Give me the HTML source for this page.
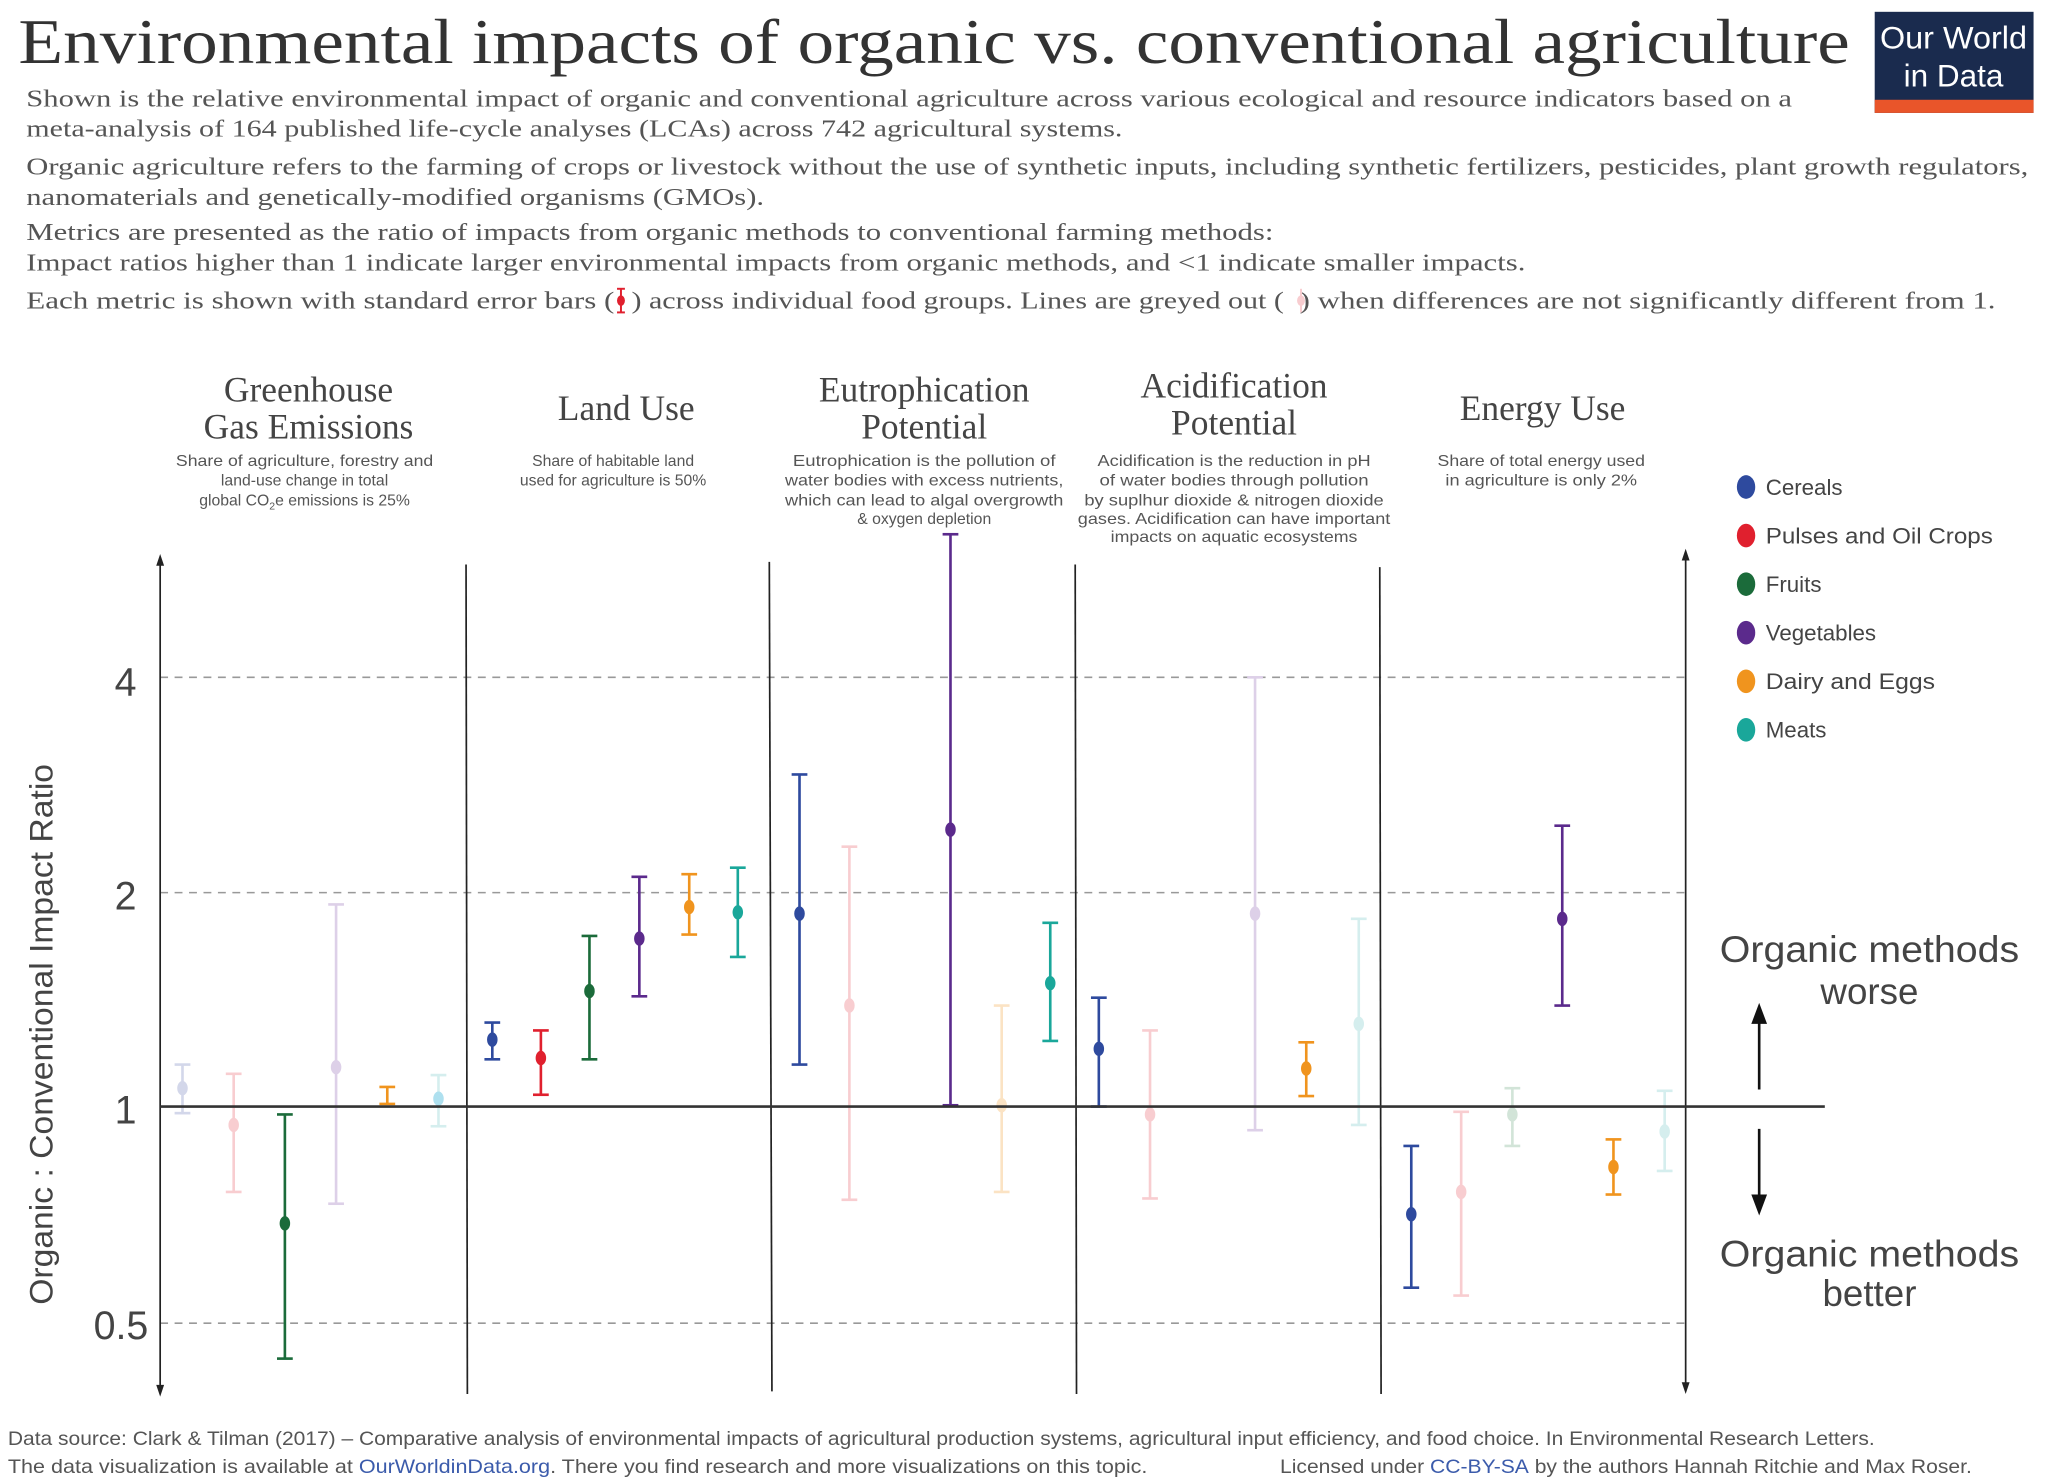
<!DOCTYPE html>
<html><head><meta charset="utf-8"><style>
html,body{margin:0;padding:0;background:#fff;}
svg{display:block;}
.serif{font-family:"Liberation Serif",serif;}
.sans{font-family:"Liberation Sans",sans-serif;}
</style></head><body>
<svg id="s" width="2048" height="1482" viewBox="0 0 1560 1129" preserveAspectRatio="none" xmlns="http://www.w3.org/2000/svg">
<rect width="1560" height="1129" fill="#fff"/>
<text class="serif" x="14" y="48" font-size="48" fill="#333" textLength="1395" lengthAdjust="spacingAndGlyphs">Environmental impacts of organic vs. conventional agriculture</text>
<rect x="1428" y="9" width="121" height="77" fill="#1a2b4e"/>
<rect x="1428" y="76" width="121" height="10" fill="#e9552a"/>
<text class="sans" x="1488" y="37" font-size="24" fill="#fff" text-anchor="middle" textLength="112" lengthAdjust="spacingAndGlyphs">Our World</text>
<text class="sans" x="1488" y="66" font-size="24" fill="#fff" text-anchor="middle">in Data</text>
<g class="serif" font-size="18.5" fill="#555">
<text x="20" y="81" textLength="1345" lengthAdjust="spacingAndGlyphs">Shown is the relative environmental impact of organic and conventional agriculture across various ecological and resource indicators based on a</text>
<text x="20" y="104" textLength="835" lengthAdjust="spacingAndGlyphs">meta-analysis of 164 published life-cycle analyses (LCAs) across 742 agricultural systems.</text>
<text x="20" y="133" textLength="1525" lengthAdjust="spacingAndGlyphs">Organic agriculture refers to the farming of crops or livestock without the use of synthetic inputs, including synthetic fertilizers, pesticides, plant growth regulators,</text>
<text x="20" y="156" textLength="562" lengthAdjust="spacingAndGlyphs">nanomaterials and genetically-modified organisms (GMOs).</text>
<text x="20" y="183" textLength="950" lengthAdjust="spacingAndGlyphs">Metrics are presented as the ratio of impacts from organic methods to conventional farming methods:</text>
<text x="20" y="206" textLength="1142" lengthAdjust="spacingAndGlyphs">Impact ratios higher than 1 indicate larger environmental impacts from organic methods, and &lt;1 indicate smaller impacts.</text>
<text x="20" y="235" textLength="448" lengthAdjust="spacingAndGlyphs">Each metric is shown with standard error bars (</text>
<text x="481" y="235" textLength="497" lengthAdjust="spacingAndGlyphs">) across individual food groups. Lines are greyed out (</text>
<text x="990" y="235" textLength="530" lengthAdjust="spacingAndGlyphs">) when differences are not significantly different from 1.</text>
</g>
<g stroke="#e0202e" stroke-width="1.5"><line x1="473" y1="220" x2="473" y2="238"/><line x1="470" y1="220" x2="476" y2="220"/><line x1="470" y1="238" x2="476" y2="238"/></g><ellipse cx="473" cy="229" rx="3" ry="4" fill="#e0202e"/>
<g stroke="#f8cdd0" stroke-width="1.5"><line x1="991" y1="220" x2="991" y2="238"/></g><ellipse cx="991" cy="229" rx="3" ry="4" fill="#f8cdd0"/>

<g class="serif" font-size="27" fill="#444" text-anchor="middle">
<text x="235" y="306">Greenhouse</text><text x="235" y="334">Gas Emissions</text>
<text x="477" y="320">Land Use</text>
<text x="704" y="306">Eutrophication</text><text x="704" y="334">Potential</text>
<text x="940" y="303">Acidification</text><text x="940" y="331">Potential</text>
<text x="1175" y="320">Energy Use</text>
</g>
<g class="sans" font-size="12" fill="#555" text-anchor="middle">
<text x="232" y="355" textLength="196" lengthAdjust="spacingAndGlyphs">Share of agriculture, forestry and</text>
<text x="232" y="370">land-use change in total</text>
<text x="232" y="385">global CO<tspan font-size="8" dy="3">2</tspan><tspan dy="-3">e emissions is 25%</tspan></text>
<text x="467" y="355">Share of habitable land</text>
<text x="467" y="370">used for agriculture is 50%</text>
<text x="704" y="355" textLength="200" lengthAdjust="spacingAndGlyphs">Eutrophication is the pollution of</text>
<text x="704" y="370" textLength="212" lengthAdjust="spacingAndGlyphs">water bodies with excess nutrients,</text>
<text x="704" y="385" textLength="212" lengthAdjust="spacingAndGlyphs">which can lead to algal overgrowth</text>
<text x="704" y="399">&amp; oxygen depletion</text>
<text x="940" y="355" textLength="208" lengthAdjust="spacingAndGlyphs">Acidification is the reduction in pH</text>
<text x="940" y="370" textLength="205" lengthAdjust="spacingAndGlyphs">of water bodies through pollution</text>
<text x="940" y="385" textLength="228" lengthAdjust="spacingAndGlyphs">by suplhur dioxide &amp; nitrogen dioxide</text>
<text x="940" y="399" textLength="238" lengthAdjust="spacingAndGlyphs">gases. Acidification can have important</text>
<text x="940" y="413" textLength="188" lengthAdjust="spacingAndGlyphs">impacts on aquatic ecosystems</text>
<text x="1174" y="355" textLength="158" lengthAdjust="spacingAndGlyphs">Share of total energy used</text>
<text x="1174" y="370" textLength="146" lengthAdjust="spacingAndGlyphs">in agriculture is only 2%</text>
</g>
<g class="sans" font-size="17" fill="#444">
<ellipse cx="1330" cy="371" rx="7" ry="9" fill="#2e4a9e"/><text x="1345" y="377">Cereals</text>
<ellipse cx="1330" cy="408" rx="7" ry="9" fill="#e0202e"/><text x="1345" y="414" textLength="173" lengthAdjust="spacingAndGlyphs">Pulses and Oil Crops</text>
<ellipse cx="1330" cy="445" rx="7" ry="9" fill="#1b6b3a"/><text x="1345" y="451">Fruits</text>
<ellipse cx="1330" cy="482" rx="7" ry="9" fill="#5b2a8c"/><text x="1345" y="488">Vegetables</text>
<ellipse cx="1330" cy="519" rx="7" ry="9" fill="#f0941e"/><text x="1345" y="525" textLength="129" lengthAdjust="spacingAndGlyphs">Dairy and Eggs</text>
<ellipse cx="1330" cy="556" rx="7" ry="9" fill="#1aa79a"/><text x="1345" y="562">Meats</text>
</g>
<g stroke="#999" stroke-width="1.2" stroke-dasharray="6,5">
<line x1="122" y1="516" x2="1284" y2="516"/><line x1="122" y1="680" x2="1284" y2="680"/><line x1="122" y1="1008" x2="1284" y2="1008"/>
</g>
<g stroke="#222" stroke-width="1.3">
<line x1="122" y1="428" x2="122" y2="1060"/><line x1="1284" y1="424" x2="1284" y2="1058"/>
<line x1="355" y1="430" x2="356" y2="1062"/><line x1="586" y1="428" x2="588" y2="1060"/><line x1="819" y1="430" x2="820" y2="1062"/><line x1="1051" y1="432" x2="1052" y2="1062"/>
</g>
<path d="M122,422 l-3,9 h6z M122,1064 l-3,-9 h6z M1284,418 l-3,9 h6z M1284,1062 l-3,-9 h6z" fill="#222"/>
<g class="sans" font-size="30" fill="#444" text-anchor="end">
<text x="104" y="530">4</text><text x="104" y="693">2</text><text x="104" y="856">1</text><text x="113" y="1020">0.5</text>
</g>
<text class="sans" font-size="25" fill="#444" text-anchor="middle" transform="translate(40,788) rotate(-90)" textLength="412" lengthAdjust="spacingAndGlyphs">Organic : Conventional Impact Ratio</text>
<g id="bars"></g>
<line x1="122" y1="843" x2="1390" y2="843" stroke="#333" stroke-width="2"/>
<g class="sans" font-size="28" fill="#444" text-anchor="middle">
<text x="1424" y="733" textLength="228" lengthAdjust="spacingAndGlyphs">Organic methods</text><text x="1424" y="765">worse</text>
<text x="1424" y="965" textLength="228" lengthAdjust="spacingAndGlyphs">Organic methods</text><text x="1424" y="995">better</text>
</g>
<line x1="1340" y1="830" x2="1340" y2="775" stroke="#111" stroke-width="2"/><path d="M1340,764 l-6,16 h12z" fill="#111"/>
<line x1="1340" y1="860" x2="1340" y2="915" stroke="#111" stroke-width="2"/><path d="M1340,926 l-6,-16 h12z" fill="#111"/>
<g class="sans" font-size="14.5" fill="#555">
<text x="6" y="1101" textLength="1422" lengthAdjust="spacingAndGlyphs">Data source: Clark &amp; Tilman (2017) – Comparative analysis of environmental impacts of agricultural production systems, agricultural input efficiency, and food choice. In Environmental Research Letters.</text>
<text x="6" y="1122" textLength="868" lengthAdjust="spacingAndGlyphs">The data visualization is available at <tspan fill="#3b5bab">OurWorldinData.org</tspan>. There you find research and more visualizations on this topic.</text>
<text x="975" y="1122" textLength="527" lengthAdjust="spacingAndGlyphs">Licensed under <tspan fill="#3b5bab">CC-BY-SA</tspan> by the authors Hannah Ritchie and Max Roser.</text>
</g>
</svg>
<script>
var C={b:"#2e4a9e",r:"#e0202e",g:"#1b6b3a",v:"#5b2a8c",o:"#f0941e",t:"#1aa79a",fb:"#d3d7ea",fr:"#f8cdd0",fg:"#d2e4d8",fv:"#ddd0e8",fo:"#fbe3c4",ft:"#d5eeee"};
var D=[
[139,829,811,848,"fb"],[178,857,818,908,"fr"],[217,932,849,1035,"g"],[256,813,689,917,"fv"],[295,null,828,841,"o"],[334,837,819,858,"ft","#aee0ef"],
[375,792,779,807,"b"],[412,806,785,834,"r"],[449,755,713,807,"g"],[487,715,668,759,"v"],[525,691,666,712,"o"],[562,695,661,729,"t"],
[609,696,590,811,"b"],[647,766,645,914,"fr"],[724,632,407,842,"v"],[763,842,766,908,"fo"],[800,749,703,793,"t"],
[837,799,760,843,"b"],[876,849,785,913,"fr"],[956,696,516,861,"fv"],[995,814,794,835,"o"],[1035,780,700,857,"ft"],
[1075,925,873,981,"b"],[1113,908,847,987,"fr"],[1152,849,829,873,"fg"],[1190,700,629,766,"v"],[1229,889,868,910,"o"],[1268,862,831,892,"ft"]];
var h="";
D.forEach(function(d){var c=C[d[4]];var x=d[0];
h+='<g stroke="'+c+'" stroke-width="2"><line x1="'+x+'" y1="'+d[2]+'" x2="'+x+'" y2="'+d[3]+'"/><line x1="'+(x-6)+'" y1="'+d[2]+'" x2="'+(x+6)+'" y2="'+d[2]+'"/><line x1="'+(x-6)+'" y1="'+d[3]+'" x2="'+(x+6)+'" y2="'+d[3]+'"/></g>';
if(d[1]!==null)h+='<ellipse cx="'+x+'" cy="'+d[1]+'" rx="4" ry="5.5" fill="'+(d[5]||c)+'"/>';});
document.getElementById("bars").innerHTML=h;
</script>
</body></html>
